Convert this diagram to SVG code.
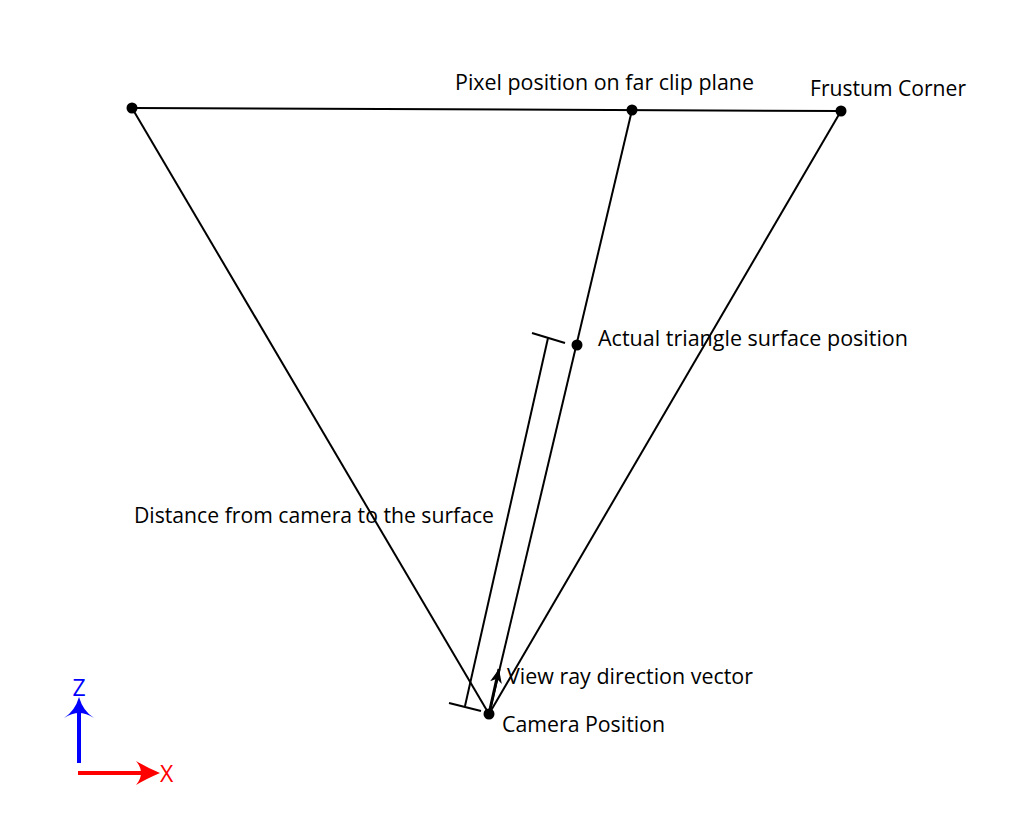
<svg xmlns="http://www.w3.org/2000/svg" width="1024" height="840" viewBox="0 0 1024 840">
<style>
.ln{stroke:#000;stroke-width:2;fill:none}
.dot{fill:#000}
.lbl{font-family:"Open Sans","Noto Sans","Liberation Sans",sans-serif;font-size:21px;fill:#000}
</style>
<defs>
<marker id="ah" markerWidth="15" markerHeight="13" refX="14" refY="6" orient="auto" markerUnits="userSpaceOnUse" viewBox="0 0 15 13">
<path d="M0,0 L14,6 L0,12 L4,6 Z" fill="#000"/>
</marker>
</defs>
<rect width="1024" height="840" fill="#fff"/>
<g id="connectors">
<line class="ln" x1="132" y1="108" x2="841" y2="111"/>
<line class="ln" x1="132" y1="108" x2="489" y2="714"/>
<line class="ln" x1="841" y1="111" x2="489" y2="714"/>
<line class="ln" x1="632" y1="110" x2="489" y2="714"/>
<line class="ln" x1="548" y1="338" x2="465" y2="706"/>
<line class="ln" x1="532" y1="333" x2="565" y2="343"/>
<line class="ln" x1="449" y1="703" x2="481" y2="711"/>
<line stroke="#000" stroke-width="3" x1="489" y1="714" x2="499" y2="669" marker-end="url(#ah)"/>
</g>
<g id="node-left-corner"><circle class="dot" cx="132" cy="108" r="5.5"/></g>
<g id="node-pixel"><circle class="dot" cx="632" cy="110" r="5.5"/>
<text class="lbl" x="455" y="90" textLength="299" lengthAdjust="spacingAndGlyphs">Pixel position on far clip plane</text></g>
<g id="node-frustum-corner"><circle class="dot" cx="841" cy="111" r="5.5"/>
<text class="lbl" x="810" y="96" textLength="156" lengthAdjust="spacingAndGlyphs">Frustum Corner</text></g>
<g id="node-surface"><circle class="dot" cx="577" cy="345" r="5.5"/>
<text class="lbl" x="598" y="346" textLength="310" lengthAdjust="spacingAndGlyphs">Actual triangle surface position</text></g>
<g id="node-camera"><circle class="dot" cx="489" cy="714" r="5.5"/>
<text class="lbl" x="502" y="732" textLength="163" lengthAdjust="spacingAndGlyphs">Camera Position</text></g>
<g id="label-distance"><text class="lbl" x="134" y="523" textLength="360" lengthAdjust="spacingAndGlyphs">Distance from camera to the surface</text></g>
<g id="label-view-ray"><text class="lbl" x="507" y="684" textLength="246" lengthAdjust="spacingAndGlyphs">View ray direction vector</text></g>
<g id="axes">
<line x1="79" y1="763" x2="79" y2="712" stroke="#00f" stroke-width="4"/>
<path d="M79,697 Q83,711 94,718 Q86,713 79,713 Q72,713 64,718 Q75,711 79,697 Z" fill="#00f"/>
<text x="79" y="696" text-anchor="middle" font-family="'Open Sans','Noto Sans','Liberation Sans',sans-serif" font-size="23" fill="#00f">Z</text>
<line x1="78" y1="773" x2="146" y2="773" stroke="#f00" stroke-width="4"/>
<path d="M160,773 Q146,767 136,761 Q141,767 141,773 Q141,779 136,785 Q146,779 160,773 Z" fill="#f00"/>
<text x="160" y="782" font-family="'Open Sans','Noto Sans','Liberation Sans',sans-serif" font-size="23" fill="#f00">X</text>
</g>
</svg>
